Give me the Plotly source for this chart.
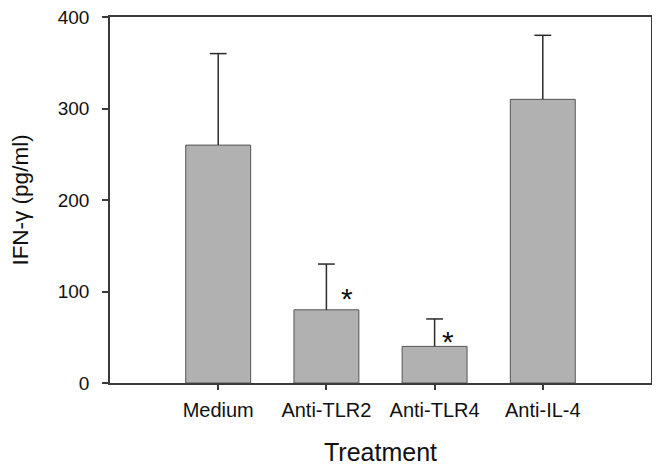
import plotly.graph_objects as go

categories = ["Medium", "Anti-TLR2", "Anti-TLR4", "Anti-IL-4"]
ifn_gamma = [260, 80, 40, 310]
sem_upper = [100, 50, 30, 70]
sig_categories = ["Anti-TLR2", "Anti-TLR4"]
sig_marks = ["*", "*"]
sig_y = [95, 48]
sig_xoffset = [0.19, 0.12]
y_ticks = [0, 100, 200, 300, 400]

FONT = "Liberation Sans, Arial, sans-serif"
AX = "#3a3a3a"
EB = "#2a2a2a"

fig = go.Figure()
fig.add_trace(go.Bar(
    x=categories, y=ifn_gamma, width=0.6,
    marker=dict(color="#b1b1b1", line=dict(color="#555555", width=1)),
    showlegend=False, hoverinfo="skip",
))
# upper-only error bars: stem from bar top, cap only at the whisker end
tops = [v + e for v, e in zip(ifn_gamma, sem_upper)]
fig.add_trace(go.Scatter(
    x=categories, y=tops, mode="markers",
    marker=dict(symbol="line-ew", size=12, color=EB,
                line=dict(color=EB, width=1.5)),
    error_y=dict(type="data", symmetric=False, array=[0] * len(tops),
                 arrayminus=sem_upper, color=EB, thickness=1.5, width=0),
    showlegend=False,
))

for cat, mark, yv, dx in zip(sig_categories, sig_marks, sig_y, sig_xoffset):
    fig.add_annotation(x=categories.index(cat) + dx, y=yv, text=mark,
                       showarrow=False, xref="x", yref="y",
                       yanchor="middle", yshift=-2,
                       font=dict(family=FONT, size=30, color="#111111"))

fig.update_layout(
    width=652, height=458,
    margin=dict(l=102, r=9, t=9, b=83),
    paper_bgcolor="white", plot_bgcolor="white",
    font=dict(family=FONT, color="#111111"),
)
fig.update_xaxes(
    range=[-1, 4], showline=True, linecolor=AX, linewidth=1.5, mirror=True,
    ticks="outside", ticklen=5, tickwidth=1.5, tickcolor=AX,
    tickfont=dict(size=20), showgrid=False, zeroline=False,
    ticklabelstandoff=3, automargin=False,
    title=dict(text="Treatment", font=dict(size=25), standoff=27),
)
fig.update_yaxes(
    range=[0, 400], tickvals=y_ticks, showline=True, linecolor=AX, linewidth=1.5,
    mirror=True, ticks="outside", ticklen=6, tickwidth=1.5, tickcolor=AX,
    tickfont=dict(size=19), showgrid=False, zeroline=False,
    ticklabelstandoff=9, automargin=False, ticklabeloverflow="allow",
    title=dict(text="IFN-γ (pg/ml)", font=dict(size=22.5), standoff=31),
)

fig.write_html("out.html")
